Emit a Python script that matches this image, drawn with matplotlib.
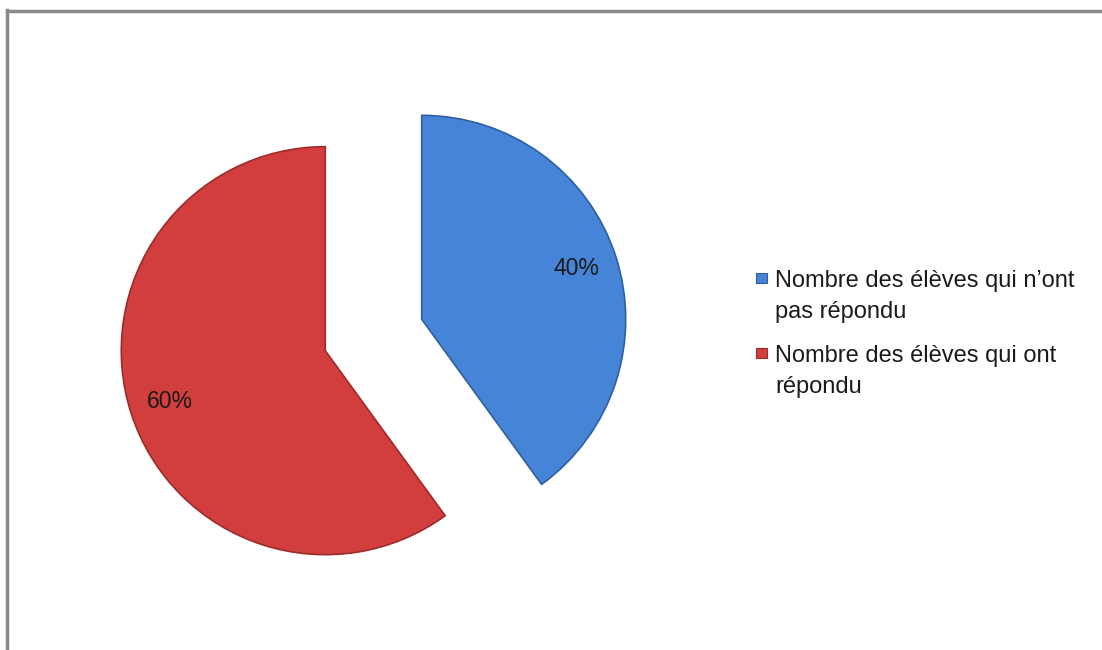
import matplotlib
matplotlib.use("Agg")
import matplotlib.pyplot as plt
from matplotlib.lines import Line2D
from matplotlib.patches import Rectangle

labels = ["Nombre des élèves qui n\u2019ont\npas répondu", "Nombre des élèves qui ont\nrépondu"]
values = [40, 60]
colors = ["#4584D6", "#D23E3E"]
edges = ["#2F5F9E", "#9E2A2A"]

W, H = 1102, 650
fig = plt.figure(figsize=(W / 100, H / 100), dpi=100)
ax = fig.add_axes([0, 0, 1, 1])

wedges, texts, autotexts = ax.pie(
    values, colors=colors, startangle=90, counterclock=False,
    explode=[50.7, 50.7], radius=204, center=(373.5, H - 335),
    autopct="%1.0f%%", pctdistance=0.8,
    textprops=dict(fontsize=16.5, color="#1a1a1a", family="Liberation Sans"),
    wedgeprops=dict(linewidth=1.2),
)
for w, e in zip(wedges, edges):
    w.set_edgecolor(e)
ax.set_xlim(0, W)
ax.set_ylim(0, H)
ax.set_aspect("equal")
ax.axis("off")

# legend (drawn manually so the marker aligns with the first text line)
entry_baselines = [287, 362]
line_step = 31
for lab, c, e, yb in zip(labels, colors, edges, entry_baselines):
    ax.add_patch(Rectangle((756, H - yb + 4), 11, 10, facecolor=c, edgecolor=e, lw=0.8))
    for i, line in enumerate(lab.split("\n")):
        ax.text(775, H - (yb + i * line_step), line, ha="left", va="baseline",
                fontsize=17, family="Liberation Sans", color="#1a1a1a")

# outer frame
fig.add_artist(Line2D([7 / W, 7 / W], [0, 1 - 10 / H], transform=fig.transFigure, color="#8a8a8a", lw=2.5))
fig.add_artist(Line2D([7 / W, 1], [1 - 11 / H, 1 - 11 / H], transform=fig.transFigure, color="#8a8a8a", lw=2.5))

fig.savefig("out.png", dpi=100, facecolor="white")
